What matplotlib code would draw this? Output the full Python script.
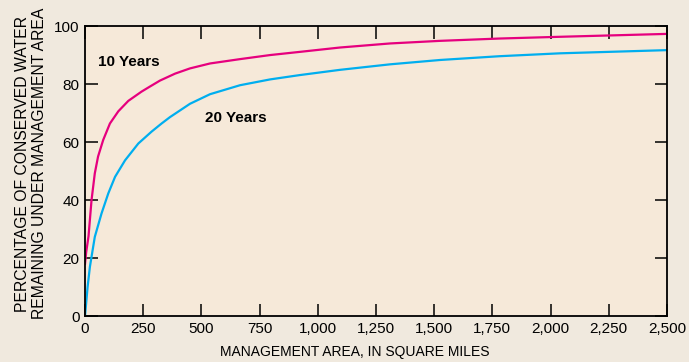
import matplotlib
matplotlib.use("Agg")
import matplotlib.pyplot as plt
from matplotlib.ticker import FuncFormatter

plt.rcParams['font.family'] = ['Liberation Sans', 'DejaVu Sans']

# management area (square miles) vs percentage remaining
area_10 = [0, 5, 15, 28, 42, 56, 78, 107, 143, 186, 243, 278, 322, 387, 451, 537, 666,
           795, 923, 1095, 1310, 1525, 1780, 2040, 2500]
pct_10 = [18, 22, 27.5, 40, 49.2, 55, 60.7, 66.4, 70.6, 74.2, 77.4, 79.1, 81.2, 83.6,
          85.4, 87.1, 88.6, 90.0, 91.1, 92.6, 94.0, 94.9, 95.7, 96.3, 97.3]

area_20 = [0, 11, 21, 42, 71, 100, 129, 172, 229, 286, 329, 365, 451, 537, 666, 795,
           923, 1095, 1310, 1525, 1780, 2040, 2500]
pct_20 = [0, 10, 17, 27.3, 35.4, 42.3, 48, 53.7, 59.5, 63.6, 66.4, 68.6, 73.2, 76.5,
          79.6, 81.6, 83.1, 84.9, 86.8, 88.3, 89.6, 90.6, 91.7]

x_ticks = [0, 250, 500, 750, 1000, 1250, 1500, 1750, 2000, 2250, 2500]
y_ticks = [0, 20, 40, 60, 80, 100]

fig = plt.figure(figsize=(6.89, 3.62), dpi=100, facecolor='#f0e9de')
ax = fig.add_axes([0.1234, 0.127, 0.8446, 0.801])
ax.set_facecolor('#f6e9d9')

ax.plot(area_10, pct_10, color='#e6007e', lw=1.6)
ax.plot(area_20, pct_20, color='#00aeef', lw=1.6)

ax.text(56, 87.6, '10 Years', fontsize=11, fontweight='bold', va='center')
ax.text(515, 68.3, '20 Years', fontsize=11, fontweight='bold', va='center')

ax.set_xlim(0, 2500)
ax.set_ylim(0, 100)
ax.set_xticks(x_ticks)
ax.set_yticks(y_ticks)
ax.xaxis.set_major_formatter(FuncFormatter(lambda v, p: f'{int(v):,}'))
ax.tick_params(direction='in', length=9, width=1.1, top=True, right=True,
               labelsize=11, pad=4)
for s in ax.spines.values():
    s.set_linewidth(1.3)

ax.set_xlabel('MANAGEMENT AREA, IN SQUARE MILES', fontsize=10)
ax.xaxis.set_label_coords(0.464, -0.1)
ax.set_ylabel('PERCENTAGE OF CONSERVED WATER\nREMAINING UNDER MANAGEMENT AREA',
              fontsize=11.3, linespacing=1.1)
ax.yaxis.set_label_coords(-0.066, 0.526)

fig.savefig('out.png', dpi=100, facecolor=fig.get_facecolor())
